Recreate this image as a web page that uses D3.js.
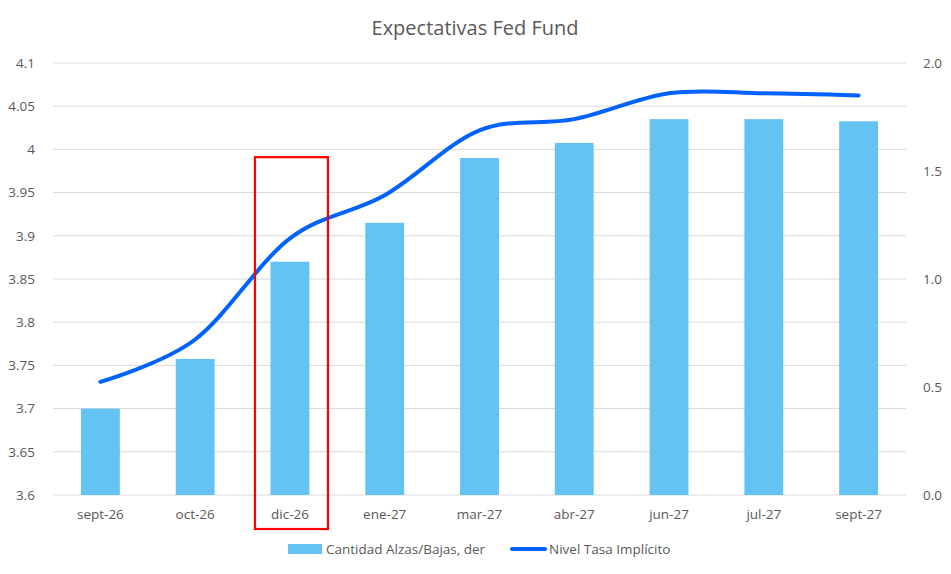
<!DOCTYPE html>
<html>
<head>
<meta charset="utf-8">
<script src="https://cdn.jsdelivr.net/npm/d3@7"></script>
<style>
  body { margin: 0; background: #fff; }
  text { font-family: "Open Sans", "Noto Sans", sans-serif; fill: #595959; }
</style>
</head>
<body>
<div class="container"></div>
<script>
const size = {width: 951, height: 574};
const margin = {top: 63, right: 45, bottom: 79, left: 53};

// data
const meses = ["sept-26", "oct-26", "dic-26", "ene-27", "mar-27", "abr-27", "jun-27", "jul-27", "sept-27"];
const cantidad = [0.40, 0.63, 1.08, 1.26, 1.56, 1.63, 1.74, 1.74, 1.73];
const tasa = [3.731, 3.78, 3.897, 3.947, 4.022, 4.035, 4.065, 4.065, 4.0625];
const ticksIzq = [3.6, 3.65, 3.7, 3.75, 3.8, 3.85, 3.9, 3.95, 4, 4.05, 4.1];
const ticksDer = [0, 0.5, 1.0, 1.5, 2.0];
const destacado = "dic-26";

const svg = d3.select(".container")
              .append("svg")
              .attr("width", size.width)
              .attr("height", size.height);

const w = size.width - margin.left - margin.right;
const h = size.height - margin.top - margin.bottom;

const x = d3.scaleBand().domain(meses).range([margin.left, margin.left + w]).paddingInner(0.59).paddingOuter(0.295);
const xc = (d) => x(d) + x.bandwidth() / 2;
const yIzq = d3.scaleLinear().domain([3.6, 4.1]).range([margin.top + h, margin.top]);
const yDer = d3.scaleLinear().domain([0, 2]).range([margin.top + h, margin.top]);

// title
svg.append("text")
   .attr("x", 475)
   .attr("y", 35)
   .attr("text-anchor", "middle")
   .style("font-size", "20px")
   .text("Expectativas Fed Fund");

// grid
svg.append("g")
   .selectAll("line")
   .data(ticksIzq)
   .enter()
   .append("line")
   .attr("x1", margin.left)
   .attr("x2", margin.left + w)
   .attr("y1", (d) => yIzq(d))
   .attr("y2", (d) => yIzq(d))
   .attr("stroke", "#d9d9d9")
   .attr("stroke-width", 1);

// left axis
const ejeIzq = svg.append("g")
   .attr("transform", `translate(${margin.left - 15},0)`)
   .call(d3.axisLeft(yIzq).tickValues(ticksIzq).tickSize(0).tickFormat((d) => d3.format("")(+d.toFixed(2))));
ejeIzq.select(".domain").remove();
ejeIzq.selectAll("text").style("font-size", "13.5px").style("fill", "#595959");

// right axis
const ejeDer = svg.append("g")
   .attr("transform", `translate(${margin.left + w + 14},0)`)
   .call(d3.axisRight(yDer).tickValues(ticksDer).tickSize(0).tickFormat(d3.format(".1f")));
ejeDer.select(".domain").remove();
ejeDer.selectAll("text").style("font-size", "13.5px").style("fill", "#595959");

// bottom axis
const ejeX = svg.append("g")
   .attr("transform", `translate(0,${margin.top + h + 11})`)
   .call(d3.axisBottom(x).tickSize(0));
ejeX.select(".domain").remove();
ejeX.selectAll("text").style("font-size", "13.5px").style("fill", "#595959");

// bars
svg.append("g")
   .selectAll("rect")
   .data(meses)
   .enter()
   .append("rect")
   .attr("x", (d) => x(d))
   .attr("width", x.bandwidth())
   .attr("y", (d, i) => yDer(cantidad[i]))
   .attr("height", (d, i) => yDer(0) - yDer(cantidad[i]))
   .attr("fill", "#63c3f3");

// line
const linea = d3.line()
   .x((d, i) => xc(meses[i]))
   .y((d) => yIzq(d))
   .curve(d3.curveCardinal.tension(0));

svg.append("path")
   .datum(tasa)
   .attr("d", linea)
   .attr("fill", "none")
   .attr("stroke", "#0062ff")
   .attr("stroke-width", 4)
   .attr("stroke-linecap", "round");

// highlight box
svg.append("rect")
   .attr("x", xc(destacado) - 35)
   .attr("width", 73)
   .attr("y", yIzq(3.991))
   .attr("height", yIzq(3.6) + 34 - yIzq(3.991))
   .attr("fill", "none")
   .attr("stroke", "#ff0000")
   .attr("stroke-width", 2.2);

// legend
const leyenda = svg.append("g").attr("transform", "translate(0,549)");
leyenda.append("rect").attr("x", 288).attr("y", -5).attr("width", 34).attr("height", 10).attr("fill", "#63c3f3");
leyenda.append("text").attr("x", 326).attr("y", 5).style("font-size", "13.5px").text("Cantidad Alzas/Bajas, der");
leyenda.append("line").attr("x1", 512).attr("x2", 545).attr("y1", 0).attr("y2", 0)
       .attr("stroke", "#0062ff").attr("stroke-width", 4).attr("stroke-linecap", "round");
leyenda.append("text").attr("x", 549).attr("y", 5).style("font-size", "13.5px").text("Nivel Tasa Implícito");
</script>
</body>
</html>
